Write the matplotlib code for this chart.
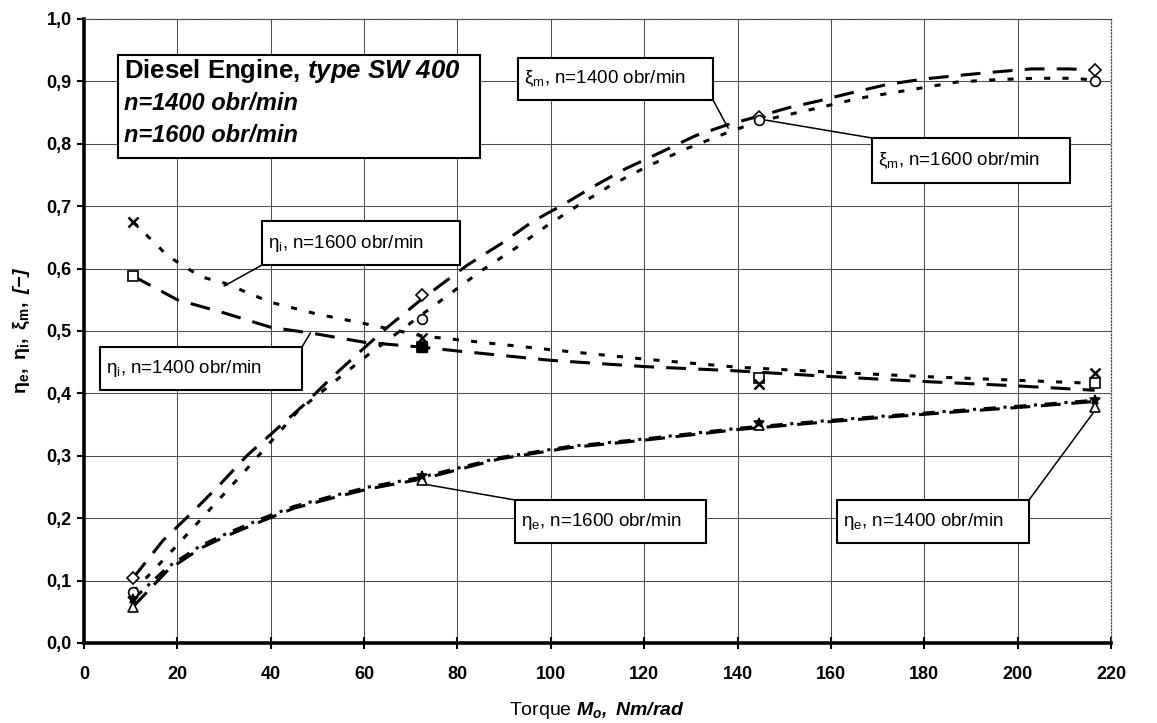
import matplotlib
matplotlib.use("Agg")
import matplotlib.pyplot as plt
from matplotlib.patches import Rectangle

# ---- data ----
# measured points (torque Mo, Nm/rad)
torque = [10.5, 72.5, 144.5, 216.5]
eta_e_1400 = [0.058, 0.262, 0.350, 0.378]
eta_e_1600 = [0.070, 0.268, 0.352, 0.389]
eta_i_1400 = [0.588, 0.474, 0.425, 0.416]
eta_i_1600 = [0.675, 0.489, 0.415, 0.432]
xi_m_1400 = [0.104, 0.558, 0.843, 0.918]
xi_m_1600 = [0.082, 0.520, 0.838, 0.900]

# trend lines
xi1400_x = [10.5, 17, 23, 29, 35, 41, 47, 53, 59, 65, 72.5, 82, 90, 96, 103, 109, 116,
            124, 131, 138, 145, 151, 157, 164, 172, 180, 188, 195, 203, 211, 216.5]
xi1400_y = [0.104, 0.165, 0.208, 0.253, 0.301, 0.341, 0.381, 0.425, 0.466, 0.506, 0.552,
            0.605, 0.643, 0.675, 0.704, 0.731, 0.760, 0.788, 0.813, 0.831, 0.845, 0.858,
            0.868, 0.881, 0.895, 0.904, 0.910, 0.915, 0.920, 0.920, 0.918]
xi1600_x = [10.5, 20, 35, 46, 60, 72.5, 85, 92.5, 99, 106, 113, 121, 129, 137.5, 144.5,
            157, 166, 175, 187, 196, 204, 212, 216.5]
xi1600_y = [0.082, 0.157, 0.280, 0.373, 0.457, 0.527, 0.596, 0.633, 0.668, 0.702, 0.734,
            0.765, 0.792, 0.817, 0.836, 0.857, 0.873, 0.884, 0.899, 0.903, 0.905, 0.905, 0.902]
etai1400_x = [10.5, 20, 30, 40, 50, 60, 72.5, 80, 100, 120, 140, 160, 180, 200, 216.5]
etai1400_y = [0.588, 0.550, 0.529, 0.506, 0.495, 0.482, 0.474, 0.468, 0.453, 0.443,
              0.436, 0.427, 0.419, 0.412, 0.405]
etai1600_x = [10.5, 18, 25, 30, 40, 50, 60, 72.5, 100, 120, 140, 160, 180, 200, 216.5]
etai1600_y = [0.675, 0.620, 0.587, 0.577, 0.546, 0.527, 0.512, 0.492, 0.470, 0.455,
              0.442, 0.434, 0.427, 0.421, 0.416]
etae_x = [10.5, 18, 25, 31, 38, 45, 54, 61, 72.5, 89, 104, 120, 140, 157, 172, 188, 203, 216.5]
etae1400_y = [0.058, 0.117, 0.152, 0.173, 0.195, 0.216, 0.234, 0.247, 0.263, 0.295, 0.313,
              0.325, 0.342, 0.353, 0.362, 0.371, 0.379, 0.387]
etae1600_y = [0.070, 0.122, 0.156, 0.177, 0.199, 0.219, 0.237, 0.250, 0.266, 0.297, 0.315,
              0.327, 0.344, 0.355, 0.364, 0.373, 0.381, 0.389]

x_ticks = [0, 20, 40, 60, 80, 100, 120, 140, 160, 180, 200, 220]
y_ticks = [0.0, 0.1, 0.2, 0.3, 0.4, 0.5, 0.6, 0.7, 0.8, 0.9, 1.0]
y_tick_labels = ["0,0", "0,1", "0,2", "0,3", "0,4", "0,5", "0,6", "0,7", "0,8", "0,9", "1,0"]

plt.rcParams['font.family'] = ['Liberation Sans', 'DejaVu Sans']
plt.rcParams['mathtext.fontset'] = 'custom'
plt.rcParams['mathtext.rm'] = 'Liberation Sans'
plt.rcParams['mathtext.it'] = 'Liberation Sans:italic'
plt.rcParams['mathtext.bf'] = 'Liberation Sans:bold'
plt.rcParams['mathtext.bfit'] = 'Liberation Sans:italic:bold'

W, H = 1157, 723
fig = plt.figure(figsize=(W / 100, H / 100), dpi=100)
ax = fig.add_axes([84 / W, 1 - 643 / H, (1111 - 84) / W, (643 - 19) / H])


def fx(px):
    return px / W


def fy(py):
    return 1 - py / H


lw = 2.2
ax.plot(xi1400_x, xi1400_y, color='k', lw=lw, dashes=(6.5, 4))
ax.plot(xi1600_x, xi1600_y, color='k', lw=lw, dashes=(2, 4))
ax.plot(etai1400_x, etai1400_y, color='k', lw=lw, dashes=(6.5, 4))
ax.plot(etai1600_x, etai1600_y, color='k', lw=lw, dashes=(2, 4))
ax.plot(etae_x, etae1400_y, color='k', lw=lw, dashes=(6.5, 3.5))
ax.plot(etae_x, etae1600_y, color='k', lw=lw, dashes=(4, 2.5, 1, 2.5))

mk = dict(color='k', mfc='white', mec='k', mew=1.2, ms=7, ls='none', zorder=5)
ax.plot(torque, xi_m_1400, marker='D', **{**mk, 'ms': 6})
ax.plot(torque, xi_m_1600, marker='o', **mk)
ax.plot(torque, eta_i_1400, marker='s', **mk)
ax.plot([torque[1]], [eta_i_1400[1]], marker='s', color='k', ms=7, ls='none', zorder=6)
ax.plot(torque, eta_i_1600, marker='x', **{**mk, 'mew': 1.8})
ax.plot(torque, eta_e_1400, marker='^', **mk)
ax.plot(torque, eta_e_1600, marker='*', **{**mk, 'mfc': 'k'})

ax.set_xlim(0, 220)
ax.set_ylim(0, 1.0)
ax.set_xticks(x_ticks)
ax.set_yticks(y_ticks)
ax.set_yticklabels(y_tick_labels)
for lab in ax.get_xticklabels() + ax.get_yticklabels():
    lab.set_fontweight('bold')
    lab.set_fontsize(13)
ax.tick_params(axis='y', direction='out', length=5, width=1.5, pad=4)
ax.tick_params(axis='x', direction='inout', length=9, width=1.5, pad=12)

ax.grid(True, color='0.3', lw=0.75)
ax.set_axisbelow(True)
for s in ['left', 'bottom']:
    ax.spines[s].set_linewidth(2.6)
for s in ['top', 'right']:
    ax.spines[s].set_linewidth(0.9)
    ax.spines[s].set_linestyle(':')
    ax.spines[s].set_color('0.3')

ax.set_xlabel(r"Torque $\mathbfit{M_o,\ Nm/rad}$", fontsize=14, labelpad=12)
fig.text(fx(22), fy(330), r"$\mathbf{\eta_e,\ \eta_i,\ \xi_m,}\ \mathbfit{[-]}$",
         rotation=90, ha='center', va='center', fontsize=14)


def box(x0, y0, x1, y1, txt, fs=13.5, pad=6):
    fig.patches.append(Rectangle((fx(x0), fy(y1)), fx(x1) - fx(x0), fy(y0) - fy(y1),
                                 transform=fig.transFigure, fc='white', ec='k', lw=1.5,
                                 zorder=3))
    fig.text(fx(x0 + pad), fy((y0 + y1) / 2), txt, ha='left', va='center',
             fontsize=fs, zorder=4)


def leader(px, py, xd, yd):
    ax.annotate("", xy=(xd, yd), xycoords='data',
                xytext=(fx(px), fy(py)), textcoords='figure fraction',
                arrowprops=dict(arrowstyle='-', lw=1.1, color='k', shrinkA=0, shrinkB=0),
                zorder=4)


# title box
fig.patches.append(Rectangle((fx(118), fy(158)), fx(480) - fx(118), fy(55) - fy(158),
                             transform=fig.transFigure, fc='white', ec='k', lw=1.5, zorder=3))
fig.text(fx(124), fy(71), r"Diesel Engine, $\mathbfit{type\ SW\ 400}$", fontsize=18.5,
         fontweight='bold', ha='left', va='center', zorder=4)
fig.text(fx(124), fy(103), "n=1400 obr/min", fontsize=17, fontweight='bold',
         fontstyle='italic', ha='left', va='center', zorder=4)
fig.text(fx(124), fy(135), "n=1600 obr/min", fontsize=17, fontweight='bold',
         fontstyle='italic', ha='left', va='center', zorder=4)

box(518, 58, 713, 100, r"$\mathrm{\xi_m}$, n=1400 obr/min")
leader(713, 100, 138, 0.825)
box(872, 138, 1070, 183, r"$\mathrm{\xi_m}$, n=1600 obr/min")
leader(872, 138, 146, 0.838)
box(262, 221, 460, 265, r"$\mathrm{\eta_i}$, n=1600 obr/min")
leader(262, 265, 30, 0.572)
box(100, 347, 302, 390, r"$\mathrm{\eta_i}$, n=1400 obr/min")
leader(302, 347, 48.5, 0.497)
box(515, 500, 706, 543, r"$\mathrm{\eta_e}$, n=1600 obr/min")
leader(515, 500, 72.5, 0.255)
box(837, 500, 1029, 543, r"$\mathrm{\eta_e}$, n=1400 obr/min")
leader(1029, 500, 216.5, 0.372)

fig.savefig("out.png", dpi=100)
